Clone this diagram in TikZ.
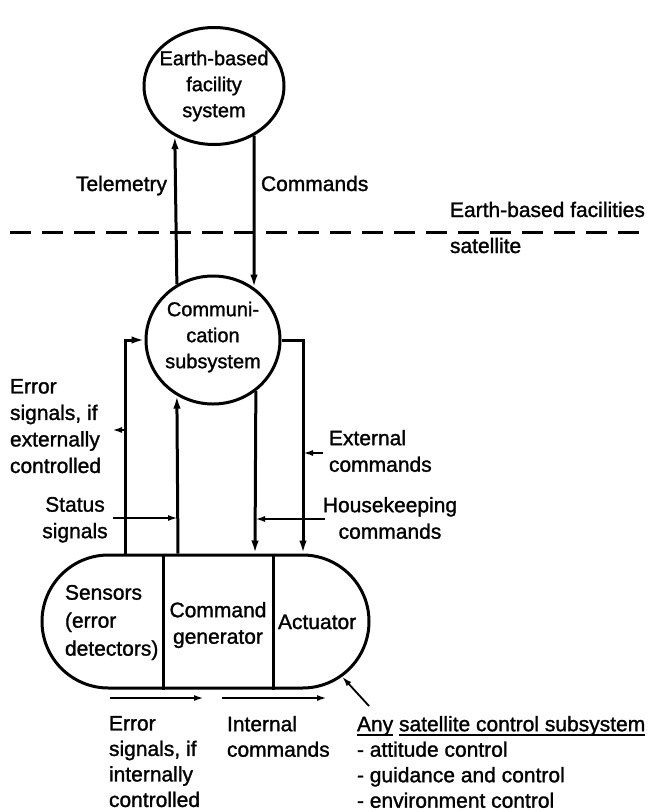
\documentclass[tikz,border=0pt]{standalone}
\usepackage{fontspec}
\setmainfont{Liberation Sans}[FakeBold=1.3]
\usetikzlibrary{shapes.geometric,shapes.misc,arrows.meta}
\newcommand\dfs{\fontsize{21pt}{26.5pt}\selectfont}
\newcommand\dfsb{\fontsize{21pt}{28pt}\selectfont}
\newcommand\dfsc{\fontsize{21pt}{25.5pt}\selectfont}
\newcommand\dfsd{\fontsize{20pt}{26pt}\selectfont}
\newcommand\ulw[1]{\setbox0\hbox{#1}\rlap{\rule[-4.5pt]{\wd0}{1.6pt}}\box0\relax}
\begin{document}
\begin{tikzpicture}[x=1pt,y=-1pt,line width=3pt,
  lbl/.style={font=\dfs,inner sep=0pt,outer sep=0pt},
  arr/.style={-{Latex[length=13pt,width=7.5pt]}},
  ptr/.style={-{Latex[length=10pt,width=6pt]},line width=2.2pt},
  oval/.style={draw,ellipse,inner sep=0pt}
]
\useasboundingbox (0,0) rectangle (650,812);

% circles
\node[oval,minimum width=140pt,minimum height=117pt,
  label={[lbl,font=\dfsd,align=center]center:Earth-based\\facility\\system}] (efs) at (214,86) {};
\node[oval,minimum width=134pt,minimum height=128pt,
  label={[lbl,font=\dfsd,align=center,yshift=3pt]center:Communi-\\cation\\subsystem}] (comm) at (213,340) {};

% pill
\node[draw,rounded rectangle,minimum width=327pt,minimum height=133pt,inner sep=0pt] (pill) at (205.5,621.5) {};

\coordinate (xL) at (125,0);
\coordinate (xML) at (178,0);
\coordinate (xMR) at (255,0);
\coordinate (xR) at (303,0);
\coordinate (xD1) at (163,0);
\coordinate (xD2) at (273,0);

\draw (pill.north -| xD1) -- (pill.south -| xD1);
\draw (pill.north -| xD2) -- (pill.south -| xD2);

% earth link
\draw[arr] (comm.123.7) -- (efs.232.9);
\draw[arr] (efs.309.2) -- (comm.52.1);

% dashed boundary
\coordinate (dashL) at (10,232);
\coordinate (dashR) at (650,232);
\draw[dash pattern=on 21pt off 11pt] (dashL) -- (dashR);

% satellite links
\draw[arr] (pill.north -| xL) |- (comm.west);
\draw[arr] (pill.north -| xML) -- (comm.237.4);
\draw[arr] (comm.310.1) -- (pill.north -| xMR);
\draw[arr] (comm.east) -| (pill.north -| xR);

% label pointers
\coordinate (erA) at (112,430);
\draw[ptr] (erA -| xL) -- (erA);
\coordinate (stA) at (113,518);
\draw[ptr] (stA) -- (stA -| xML);
\coordinate (hkA) at (325,519);
\draw[ptr] (hkA) -- (hkA -| xMR);
\coordinate (exA) at (323,453);
\draw[ptr] (exA) -- (exA -| xR);

% internal arrows
\coordinate (b1s) at (110,698);
\coordinate (b1e) at (204,698);
\coordinate (b2s) at (222,698);
\coordinate (b2e) at (327,698);
\draw[ptr] (b1s) -- (b1e);
\draw[ptr] (b2s) -- (b2e);

\coordinate (anyP) at (369,706);
\draw[ptr,line width=1.8pt] (anyP) -- (pill.338);

% texts
\node[lbl,anchor=base east] (tel) at (167,191) {Telemetry};
\node[lbl,anchor=base west] (cmd) at (261,191) {Commands};
\node[lbl,anchor=base west] (ebf) at (450,217) {Earth-based facilities};
\node[lbl,anchor=base west] (sat) at (450,253) {satellite};
\node[lbl,align=left,anchor=north west] (errx) at (10,379) {Error\\signals, if\\externally\\controlled};
\node[lbl,align=center,anchor=north] (stat) at (75,497) {Status\\signals};
\node[lbl,align=left,anchor=north west] (extc) at (329,430) {External\\commands};
\node[lbl,align=center,anchor=north] (hk) at (390,497) {Housekeeping\\commands};
\node[lbl,font=\dfsb,align=left,anchor=north west] (sens) at (65,585) {Sensors\\(error\\detectors)};
\node[lbl,align=center,anchor=north] (cg) at (218,602) {Command\\generator};
\node[lbl,anchor=base west] (act) at (278,629) {Actuator};
\node[lbl,font=\dfsc,align=left,anchor=north west] (erri) at (109,716) {Error\\signals, if\\internally\\controlled};
\node[lbl,font=\dfsc,align=left,anchor=north west] (intc) at (227,716) {Internal\\commands};
\node[lbl,font=\dfsc,align=left,anchor=north west] (any) at (357,716) {\ulw{Any} \ulw{satellite control subsystem}\\- attitude control\\- guidance and control\\- environment control};
\end{tikzpicture}
\end{document}
